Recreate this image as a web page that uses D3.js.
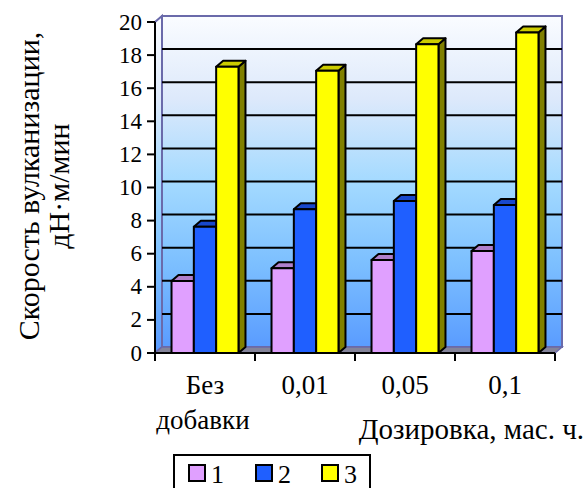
<!DOCTYPE html>
<html>
<head>
<meta charset="utf-8">
<script src="https://cdn.jsdelivr.net/npm/d3@7"></script>
<style>
  html, body { margin: 0; padding: 0; background: #fff; }
  svg { display: block; }
</style>
</head>
<body>
<svg id="chart" width="587" height="488"></svg>
<script>
const categories = ["Без добавки", "0,01", "0,05", "0,1"];
const seriesNames = ["1", "2", "3"];
const series1 = [4.35, 5.12, 5.62, 6.16];
const series2 = [7.63, 8.68, 9.18, 8.94];
const series3 = [17.3, 17.05, 18.65, 19.37];
const yTicks = [0, 2, 4, 6, 8, 10, 12, 14, 16, 18, 20];
const yTitle = ["Скорость вулканизации,", "дН·м/мин"];
const xTitle = "Дозировка, мас. ч.";

const seriesValues = [series1, series2, series3];
const colors = [
  { front: "#e0a0ff", top: "#b080cc", side: "#8060a0" },
  { front: "#1f5fff", top: "#1848cc", side: "#103090" },
  { front: "#ffff00", top: "#cccc00", side: "#808000" }
];
const FONT = "'Liberation Serif'";

const svg = d3.select("#chart");
const left = 155, right = 555, floorY = 353, topY = 22;
const DX = 7, DY = -6;

const x0 = d3.scaleBand().domain(categories).range([left, right]).paddingInner(0).paddingOuter(0);
const x1 = d3.scaleBand().domain(seriesNames).range([0, x0.bandwidth()]).paddingInner(0).paddingOuter(0.74);
const y = d3.scaleLinear().domain([0, 20]).range([floorY, topY]);

const defs = svg.append("defs");
const grad = defs.append("linearGradient").attr("id", "wallGrad")
  .attr("gradientUnits", "userSpaceOnUse")
  .attr("x1", 0).attr("x2", 0).attr("y1", y(20) + DY).attr("y2", y(0) + DY);
grad.append("stop").attr("offset", "0%").attr("stop-color", "#fafcff");
grad.append("stop").attr("offset", "25%").attr("stop-color", "#dde9fb");
grad.append("stop").attr("offset", "50%").attr("stop-color", "#a4daff");
grad.append("stop").attr("offset", "75%").attr("stop-color", "#7cbfff");
grad.append("stop").attr("offset", "100%").attr("stop-color", "#5a9cff");

const wallStroke = "#6a6aaa";
svg.append("polygon")
  .attr("points", [[left, y(0)], [left, y(20)], [left + DX, y(20) + DY], [left + DX, y(0) + DY]].join(" "))
  .attr("fill", "url(#wallGrad)").attr("stroke", wallStroke).attr("stroke-width", 2);
svg.append("rect")
  .attr("x", left + DX).attr("y", y(20) + DY)
  .attr("width", right - left).attr("height", y(0) - y(20))
  .attr("fill", "url(#wallGrad)").attr("stroke", wallStroke).attr("stroke-width", 2);

svg.append("g").selectAll("line").data(yTicks.filter(t => t > 0 && t < 20)).join("line")
  .attr("x1", left + DX).attr("x2", right + DX)
  .attr("y1", d => y(d) + DY).attr("y2", d => y(d) + DY)
  .attr("stroke", "#000").attr("stroke-width", 2);

svg.append("polygon")
  .attr("points", [[left, y(0)], [left + DX, y(0) + DY], [right + DX, y(0) + DY], [right, y(0)]].join(" "))
  .attr("fill", "#84849a").attr("stroke", wallStroke).attr("stroke-width", 1.5);

const gBars = svg.append("g");
categories.forEach((c, ci) => {
  seriesNames.forEach((s, si) => {
    const v = seriesValues[si][ci];
    const bx = x0(c) + x1(s), bw = x1.bandwidth();
    const by = y(v), b0 = y(0);
    const col = colors[si];
    const g = gBars.append("g").attr("stroke", "#000").attr("stroke-width", 2).attr("stroke-linejoin", "round");
    g.append("polygon")
      .attr("points", [[bx + bw, by], [bx + bw + DX, by + DY], [bx + bw + DX, b0 + DY], [bx + bw, b0]].join(" "))
      .attr("fill", col.side);
    g.append("polygon")
      .attr("points", [[bx, by], [bx + DX, by + DY], [bx + bw + DX, by + DY], [bx + bw, by]].join(" "))
      .attr("fill", col.top);
    g.append("rect").attr("x", bx).attr("y", by).attr("width", bw).attr("height", b0 - by)
      .attr("fill", col.front);
  });
});

const yAxis = svg.append("g");
yAxis.append("line").attr("x1", left).attr("x2", left).attr("y1", y(20)).attr("y2", y(0))
  .attr("stroke", "#000").attr("stroke-width", 2);
yAxis.selectAll("line.tick").data(yTicks).join("line").attr("class", "tick")
  .attr("x1", left - 8).attr("x2", left).attr("y1", d => y(d)).attr("y2", d => y(d))
  .attr("stroke", "#000").attr("stroke-width", 2);
yAxis.selectAll("text").data(yTicks).join("text")
  .attr("x", left - 13).attr("y", d => y(d)).attr("dy", "0.33em")
  .attr("text-anchor", "end").attr("font-size", 23).style("font-family", FONT).text(d => d);

const xAxis = svg.append("g");
xAxis.append("line").attr("x1", left).attr("x2", right).attr("y1", floorY).attr("y2", floorY)
  .attr("stroke", "#000").attr("stroke-width", 2);
const xTickPos = categories.map(c => x0(c)).concat([right]);
xAxis.selectAll("line.tick").data(xTickPos).join("line").attr("class", "tick")
  .attr("x1", d => d).attr("x2", d => d).attr("y1", floorY).attr("y2", floorY + 8)
  .attr("stroke", "#000").attr("stroke-width", 2);
categories.forEach(c => {
  const parts = c.split(" ");
  const cx = x0(c) + x0.bandwidth() / 2;
  parts.forEach((p, i) => {
    xAxis.append("text").attr("text-anchor", "middle").attr("font-size", 27)
      .style("font-family", FONT)
      .attr("x", cx - (i ? 2 : 0)).attr("y", 394 + i * 35).text(p);
  });
});
svg.append("text").attr("x", 584).attr("y", 439).attr("text-anchor", "end")
  .attr("font-size", 29).style("font-family", FONT).text(xTitle);

yTitle.forEach((line, i) => {
  svg.append("text").attr("transform", `translate(${39 + i * 30},186) rotate(-90)`)
    .attr("text-anchor", "middle").attr("font-size", 30).style("font-family", FONT).text(line);
});

const lg = svg.append("g");
lg.append("rect").attr("x", 174).attr("y", 455).attr("width", 196).attr("height", 40)
  .attr("fill", "#fff").attr("stroke", "#000").attr("stroke-width", 2);
const legX = d3.scaleOrdinal().domain(seriesNames).range([189, 256, 322]);
seriesNames.forEach((s, i) => {
  lg.append("rect").attr("x", legX(s)).attr("y", 465).attr("width", 16).attr("height", 16)
    .attr("fill", colors[i].front).attr("stroke", "#000").attr("stroke-width", 2);
  lg.append("text").attr("x", legX(s) + 22).attr("y", 483).attr("font-size", 26)
    .style("font-family", FONT).text(s);
});
</script>
</body>
</html>
